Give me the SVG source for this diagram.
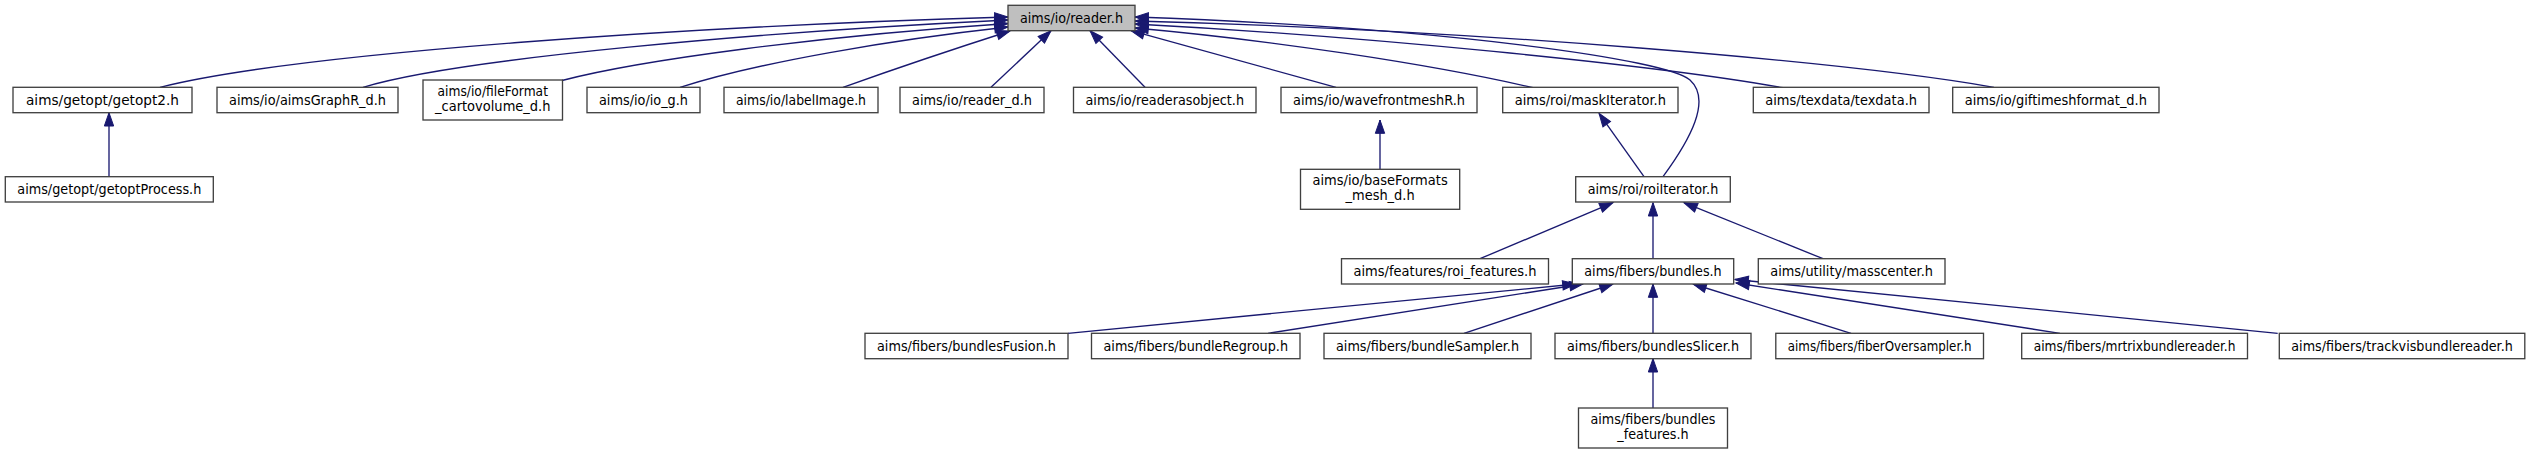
<svg xmlns="http://www.w3.org/2000/svg" width="2531" height="455" viewBox="0 0 2531 455">
<style>
.node rect{fill:#ffffff;stroke:#404040;stroke-width:1.33}
.root rect{fill:#bfbfbf}
.node text{font-family:"DejaVu Sans","Liberation Sans",sans-serif;font-size:13.33px;fill:#000;text-anchor:middle}
.edges path{fill:none;stroke:#191970;stroke-width:1.33;marker-end:url(#ah)}
</style>
<defs>
<marker id="ah" markerUnits="userSpaceOnUse" markerWidth="13.33" markerHeight="9.33" viewBox="0 0 13.33 9.33" refX="13.33" refY="4.67" orient="auto" overflow="visible">
<path d="M0,0 L13.33,4.67 L0,9.33 z" fill="#191970" stroke="#191970" stroke-width="1"/>
</marker>
</defs>
<rect width="2531" height="455" fill="#ffffff"/>
<g class="edges" id="edges">
<path d="M160,87.3 C300,52 700,26 1008,17"/>
<path d="M363,87.3 C460,58 760,32 1008,20"/>
<path d="M562,80.5 C640,60 820,36 1008,23.5"/>
<path d="M680,87.3 C760,62 890,40 1008,27"/>
<path d="M843,87.3 C900,67 960,47 1010,31"/>
<path d="M991,87.3 L1051,30.7"/>
<path d="M1145,87.3 L1090,30.7"/>
<path d="M1336,87.3 L1131,30.7"/>
<path d="M1533,87.7 C1430,64 1270,40 1135,28"/>
<path d="M1783,87.7 C1650,64 1360,36 1135,24"/>
<path d="M1994,87.3 C1850,62 1480,30 1135,21"/>
<path d="M1663,176.7 C1690,140 1712,100 1690,80 C1668,60 1450,28 1135,17"/>
<path d="M109,176.7 L109,112.7"/>
<path d="M1380,169.3 L1380,120"/>
<path d="M1644,176.7 L1599,113.3"/>
<path d="M1480,258.7 L1613,202.7"/>
<path d="M1653,258.7 L1653,202.7"/>
<path d="M1823,258.7 L1684,202.7"/>
<path d="M1068,333.3 L1576,284"/>
<path d="M1268,333.3 L1583,284"/>
<path d="M1464,333.3 L1613,284"/>
<path d="M1653,333.3 L1653,284"/>
<path d="M1851,333.3 L1693,284"/>
<path d="M2060,333.3 L1736,283"/>
<path d="M2277.7,333.3 L1735,279.5"/>
<path d="M1653,408 L1653,358.7"/>
</g>
<g class="node root" id="n0"><rect x="1008" y="5.3" width="127" height="25.4"/><text x="1071.5" y="22.5" textLength="103" lengthAdjust="spacingAndGlyphs">aims/io/reader.h</text></g>
<g class="node" id="n1"><rect x="13" y="87.3" width="179" height="25.4"/><text x="102.5" y="104.5" textLength="153" lengthAdjust="spacingAndGlyphs">aims/getopt/getopt2.h</text></g>
<g class="node" id="n2"><rect x="217" y="87.3" width="181" height="25.4"/><text x="307.5" y="104.5" textLength="157" lengthAdjust="spacingAndGlyphs">aims/io/aimsGraphR_d.h</text></g>
<g class="node" id="n3"><rect x="423" y="80" width="139.5" height="40"/><text x="492.75" y="96" textLength="110.4" lengthAdjust="spacingAndGlyphs">aims/io/fileFormat</text><text x="492.75" y="110.7" textLength="115.5" lengthAdjust="spacingAndGlyphs">_cartovolume_d.h</text></g>
<g class="node" id="n4"><rect x="587" y="87.3" width="113" height="25.4"/><text x="643.5" y="104.5" textLength="89" lengthAdjust="spacingAndGlyphs">aims/io/io_g.h</text></g>
<g class="node" id="n5"><rect x="724" y="87.3" width="154" height="25.4"/><text x="801" y="104.5" textLength="130" lengthAdjust="spacingAndGlyphs">aims/io/labelImage.h</text></g>
<g class="node" id="n6"><rect x="900" y="87.3" width="144" height="25.4"/><text x="972" y="104.5" textLength="120" lengthAdjust="spacingAndGlyphs">aims/io/reader_d.h</text></g>
<g class="node" id="n7"><rect x="1073.5" y="87.3" width="182.5" height="25.4"/><text x="1164.75" y="104.5" textLength="158.5" lengthAdjust="spacingAndGlyphs">aims/io/readerasobject.h</text></g>
<g class="node" id="n8"><rect x="1281" y="87.3" width="196" height="25.4"/><text x="1379" y="104.5" textLength="172" lengthAdjust="spacingAndGlyphs">aims/io/wavefrontmeshR.h</text></g>
<g class="node" id="n9"><rect x="1502.7" y="87.3" width="175.3" height="25.4"/><text x="1590.35" y="104.5" textLength="151.3" lengthAdjust="spacingAndGlyphs">aims/roi/maskIterator.h</text></g>
<g class="node" id="n10"><rect x="1753.3" y="87.3" width="175.7" height="25.4"/><text x="1841.15" y="104.5" textLength="151.7" lengthAdjust="spacingAndGlyphs">aims/texdata/texdata.h</text></g>
<g class="node" id="n11"><rect x="1952.7" y="87.3" width="206.3" height="25.4"/><text x="2055.85" y="104.5" textLength="182.3" lengthAdjust="spacingAndGlyphs">aims/io/giftimeshformat_d.h</text></g>
<g class="node" id="n12"><rect x="5.3" y="176.7" width="208" height="25.3"/><text x="109.3" y="193.8" textLength="184" lengthAdjust="spacingAndGlyphs">aims/getopt/getoptProcess.h</text></g>
<g class="node" id="n13"><rect x="1300.5" y="169.3" width="159.2" height="40"/><text x="1380.1" y="185.3" textLength="135.2" lengthAdjust="spacingAndGlyphs">aims/io/baseFormats</text><text x="1380.1" y="200" textLength="69.1" lengthAdjust="spacingAndGlyphs">_mesh_d.h</text></g>
<g class="node" id="n14"><rect x="1575.7" y="176.7" width="154.6" height="25.3"/><text x="1653" y="193.8" textLength="130.6" lengthAdjust="spacingAndGlyphs">aims/roi/roiIterator.h</text></g>
<g class="node" id="n15"><rect x="1341.5" y="258.7" width="207" height="25.3"/><text x="1445" y="275.8" textLength="183" lengthAdjust="spacingAndGlyphs">aims/features/roi_features.h</text></g>
<g class="node" id="n16"><rect x="1572.3" y="258.7" width="161.4" height="25.3"/><text x="1653" y="275.8" textLength="137.4" lengthAdjust="spacingAndGlyphs">aims/fibers/bundles.h</text></g>
<g class="node" id="n17"><rect x="1758.3" y="258.7" width="186.7" height="25.3"/><text x="1851.65" y="275.8" textLength="162.7" lengthAdjust="spacingAndGlyphs">aims/utility/masscenter.h</text></g>
<g class="node" id="n18"><rect x="865" y="333.3" width="203" height="25.4"/><text x="966.5" y="350.5" textLength="179" lengthAdjust="spacingAndGlyphs">aims/fibers/bundlesFusion.h</text></g>
<g class="node" id="n19"><rect x="1091.5" y="333.3" width="208.5" height="25.4"/><text x="1195.75" y="350.5" textLength="184.5" lengthAdjust="spacingAndGlyphs">aims/fibers/bundleRegroup.h</text></g>
<g class="node" id="n20"><rect x="1324" y="333.3" width="207" height="25.4"/><text x="1427.5" y="350.5" textLength="183" lengthAdjust="spacingAndGlyphs">aims/fibers/bundleSampler.h</text></g>
<g class="node" id="n21"><rect x="1555" y="333.3" width="196" height="25.4"/><text x="1653" y="350.5" textLength="172" lengthAdjust="spacingAndGlyphs">aims/fibers/bundlesSlicer.h</text></g>
<g class="node" id="n22"><rect x="1775.8" y="333.3" width="207.7" height="25.4"/><text x="1879.65" y="350.5" textLength="183.7" lengthAdjust="spacingAndGlyphs">aims/fibers/fiberOversampler.h</text></g>
<g class="node" id="n23"><rect x="2021.7" y="333.3" width="225.8" height="25.4"/><text x="2134.6" y="350.5" textLength="201.8" lengthAdjust="spacingAndGlyphs">aims/fibers/mrtrixbundlereader.h</text></g>
<g class="node" id="n24"><rect x="2279.3" y="333.3" width="245.5" height="25.4"/><text x="2402.05" y="350.5" textLength="221.5" lengthAdjust="spacingAndGlyphs">aims/fibers/trackvisbundlereader.h</text></g>
<g class="node" id="n25"><rect x="1578.5" y="408" width="149" height="40"/><text x="1653" y="424" textLength="125" lengthAdjust="spacingAndGlyphs">aims/fibers/bundles</text><text x="1653" y="438.7" textLength="71.3" lengthAdjust="spacingAndGlyphs">_features.h</text></g>
</svg>
